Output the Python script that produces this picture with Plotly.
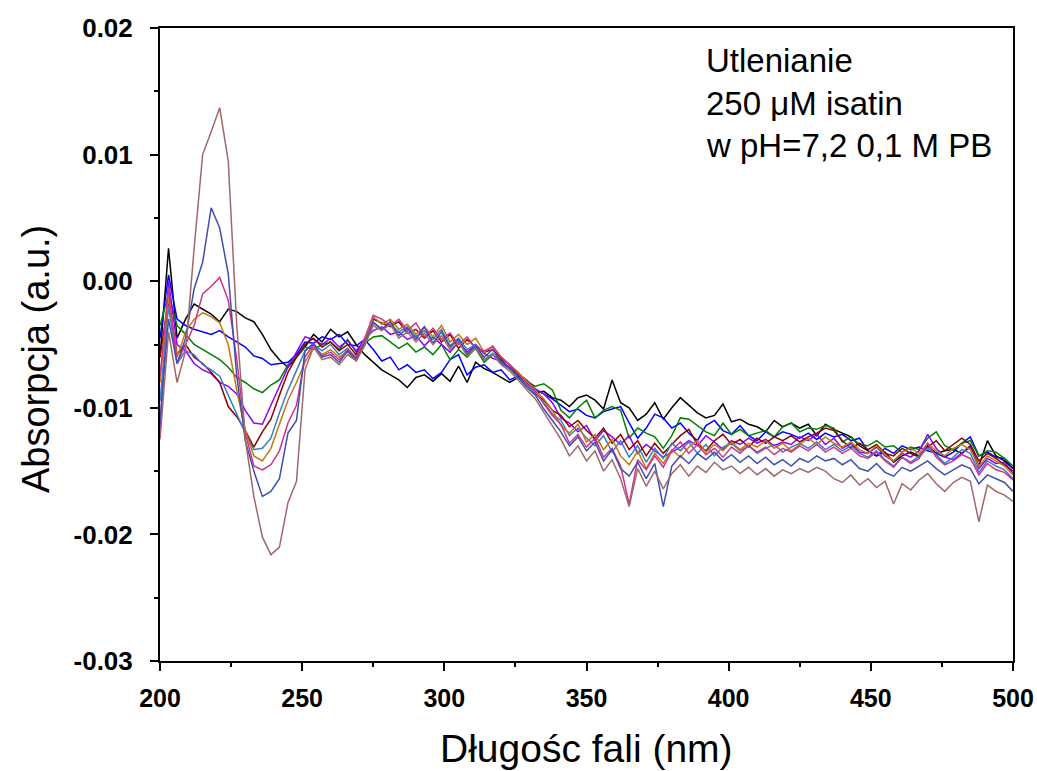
import plotly.graph_objects as go

# Wavelength grid (nm), 3 nm step, 200..500
wavelength = list(range(200, 501, 3))

# Absorbance values in mAU (converted to a.u. below)
black = [-6.0, 2.6, -4.5, -3.0, -1.8, -2.2, -2.6, -3.2, -2.2, -2.4,
         -2.9, -3.2, -4.2, -5.4, -6.2, -6.8, -6.0, -5.2, -4.2, -4.8,
         -3.8, -4.4, -4.0, -5.0, -5.8, -6.4, -7.0, -7.4, -7.8, -8.4,
         -7.6, -7.4, -7.9, -7.3, -7.9, -6.7, -8.0, -6.4, -6.9, -7.2,
         -7.6, -8.0, -7.6, -8.2, -8.8, -8.7, -9.2, -9.4, -9.9, -9.2,
         -9.0, -9.4, -10.1, -7.8, -9.6, -10.0, -11.0, -10.5, -9.6, -10.9,
         -10.0, -9.2, -9.8, -10.4, -10.8, -10.6, -9.7, -11.1, -10.9, -11.3,
         -11.5, -11.9, -11.0, -11.5, -11.2, -11.6, -11.3, -12.2, -11.3, -11.7,
         -12.0, -12.3, -13.0, -13.4, -13.8, -13.5, -14.3, -13.8, -13.5, -13.8,
         -13.0, -13.6, -13.4, -13.3, -13.6, -13.0, -14.6, -12.6, -13.8, -14.2,
         -14.8]
blue = [-4.5, 0.5, -3.0, -3.5, -3.8, -4.0, -4.2, -3.9, -4.4, -4.8,
        -5.2, -5.9, -6.1, -6.6, -6.5, -6.4, -5.8, -4.8, -4.9, -4.4,
        -4.6, -4.2, -5.0, -5.1, -4.6, -5.4, -6.3, -6.0, -7.0, -6.6,
        -7.2, -7.0, -7.7, -7.2, -6.2, -5.8, -7.4, -6.8, -6.6, -7.2,
        -7.0, -7.8, -7.5, -8.0, -8.6, -8.9, -9.3, -9.8, -10.3, -10.1,
        -10.6, -10.8, -10.3, -10.1, -9.9, -11.2, -12.4, -11.6, -10.5, -10.8,
        -11.6, -11.2, -12.0, -12.6, -11.4, -11.0, -11.8, -12.1, -11.4, -12.2,
        -12.6, -11.9, -12.3, -11.9, -12.1, -12.4, -12.0, -12.5, -12.0, -12.3,
        -12.1, -12.6, -12.4, -13.4, -13.8, -13.2, -13.6, -13.0, -13.3, -13.1,
        -13.4, -13.6, -13.9, -13.5, -12.8, -12.3, -13.8, -13.5, -13.9, -14.0,
        -14.8]
green = [-3.5, -1.0, -3.5, -4.2, -5.0, -5.4, -5.8, -6.2, -6.8, -7.6,
         -8.0, -8.5, -8.8, -8.2, -7.8, -6.6, -6.0, -5.2, -5.4, -5.0,
         -4.8, -5.4, -4.6, -5.6, -4.9, -4.4, -4.3, -4.8, -5.3, -4.9,
         -5.6, -5.2, -5.8, -5.0, -6.2, -5.4, -6.0, -5.3, -6.4, -5.8,
         -6.2, -6.9, -7.4, -7.9, -8.3, -8.1, -8.6, -10.2, -10.8, -10.0,
         -9.4, -10.8, -10.2, -9.9, -10.2, -12.4, -11.6, -12.0, -12.3, -13.2,
         -12.2, -10.8, -10.9, -11.4, -11.9, -12.2, -11.2, -12.1, -11.7, -12.2,
         -12.0, -11.8, -12.3, -11.5, -11.2, -11.9, -11.6, -11.7, -11.4, -11.6,
         -12.7, -12.3, -12.9, -13.0, -12.6, -13.1, -13.0, -13.5, -13.1, -13.3,
         -12.4, -11.9, -13.0, -13.3, -12.8, -12.6, -13.8, -13.4, -13.5, -14.0,
         -14.6]
purple = [-12.0, 0.0, -5.0, -5.5, -6.5, -7.0, -7.3, -8.0, -8.3, -8.9,
          -10.2, -11.2, -11.3, -9.8, -8.2, -6.8, -5.6, -4.4, -4.6, -5.0,
          -4.5, -5.2, -4.7, -5.5, -4.6, -3.9, -3.6, -4.2, -4.0, -4.6,
          -4.3, -5.1, -4.4, -5.0, -5.6, -4.8, -5.6, -5.0, -5.7, -6.1,
          -6.3, -6.8, -7.3, -7.8, -8.5, -8.9, -9.6, -10.8, -11.2, -11.9,
          -11.4, -12.6, -11.8, -12.3, -12.9, -12.2, -13.6, -12.9, -13.4, -13.9,
          -13.5, -13.1, -12.6, -13.0, -12.2, -12.7, -13.3, -12.6, -12.9, -12.4,
          -12.8, -12.5, -13.0, -12.7, -12.9, -12.3, -12.6, -12.1, -12.9, -12.4,
          -13.2, -12.8, -13.5, -13.6, -13.1, -13.8, -14.2, -13.6, -13.9, -13.4,
          -12.1, -13.2, -13.9, -14.1, -13.6, -13.1, -14.8, -14.0, -14.4, -14.3,
          -15.2]
darkred = [-6.0, -1.5, -5.8, -5.0, -6.0, -6.5, -7.2, -8.0, -9.9, -10.7,
           -11.8, -13.1, -11.9, -10.9, -9.0, -7.2, -6.0, -5.0, -4.5, -5.2,
           -4.8, -5.5, -5.0, -5.8, -4.6, -3.0, -3.3, -3.6, -3.2, -4.1,
           -3.8, -4.5, -3.9, -4.8, -4.2, -5.3, -4.6, -5.2, -5.6, -5.4,
           -6.1, -6.6, -7.4, -8.0, -8.9, -9.4, -10.2, -10.6, -11.5, -11.0,
           -11.8, -12.4, -11.6, -12.8, -12.1, -13.3, -12.6, -13.8, -12.8, -13.6,
           -12.9, -12.2, -11.7, -12.9, -13.4, -12.6, -12.1, -12.9, -12.5, -13.1,
           -12.4, -12.8, -12.3, -12.6, -12.2, -12.7, -12.3, -12.0, -11.6, -11.8,
           -12.6, -13.2, -12.8, -13.3, -12.9, -13.6, -13.8, -13.2, -13.6, -13.9,
           -13.1, -12.6, -13.4, -12.9, -12.4, -12.9, -14.2, -13.6, -14.0, -14.5,
           -15.0]
steelblue = [-9.5, -2.0, -6.5, -5.5, -5.8, -6.6, -7.0, -7.5, -9.0, -10.5,
             -12.0, -13.3, -13.2, -12.4, -10.4, -8.6, -7.0, -5.5, -5.0, -5.5,
             -5.0, -5.8, -5.3, -6.1, -5.0, -3.2, -3.8, -3.4, -4.0, -3.6,
             -4.4, -3.9, -4.6, -3.8, -5.1, -4.5, -5.4, -5.0, -6.2, -5.7,
             -6.5, -6.9, -7.6, -8.2, -8.8, -9.6, -10.5, -11.0, -12.2, -11.6,
             -12.4, -13.0, -12.2, -13.5, -12.6, -13.9, -13.0, -14.3, -13.2, -14.0,
             -12.8, -13.4, -12.7, -13.6, -12.9, -13.8, -13.1, -12.8, -13.4, -13.0,
             -13.6, -13.2, -12.9, -13.5, -13.1, -12.8, -13.2, -12.7, -13.3, -12.9,
             -13.4, -13.0, -13.6, -13.9, -13.4, -14.1, -14.6, -13.9, -14.3, -13.8,
             -13.2, -13.7, -14.4, -13.9, -13.3, -13.6, -15.1, -14.2, -14.6, -14.9,
             -15.6]
orange = [-8.0, -1.2, -6.0, -4.0, -3.0, -2.5, -2.8, -3.3, -5.0, -8.6,
          -11.8, -13.8, -14.2, -13.2, -11.3, -9.4, -8.0, -6.4, -5.2, -5.8,
          -5.4, -6.0, -5.6, -6.3, -4.8, -2.8, -3.4, -3.0, -3.8, -3.4,
          -4.2, -3.6, -4.4, -3.5, -4.8, -4.2, -5.0, -4.5, -5.6, -5.1,
          -6.0, -6.6, -7.2, -7.9, -8.6, -9.3, -10.2, -11.4, -12.0, -11.3,
          -12.7, -12.1, -13.3, -12.5, -13.8, -14.5, -13.4, -14.8, -13.6, -14.4,
          -13.3, -13.9, -13.1, -12.6, -13.5, -12.9, -13.4, -12.7, -13.3, -12.8,
          -13.1, -12.6, -13.2, -12.8, -13.4, -12.9, -12.4, -12.9, -12.3, -12.8,
          -13.1, -12.7, -13.3, -13.6, -13.0, -13.7, -14.2, -13.5, -13.2, -13.6,
          -12.8, -13.4, -13.8, -13.2, -12.9, -13.3, -14.6, -13.8, -14.2, -14.6,
          -15.3]
magenta = [-7.5, -0.5, -6.5, -5.0, -3.5, -1.0, -0.4, 0.3, -1.5, -6.2,
           -12.0, -14.6, -14.9, -14.5, -13.4, -11.2, -9.8, -6.0, -5.0, -5.9,
           -5.6, -6.2, -5.4, -6.0, -4.5, -2.7, -3.0, -3.5, -3.0, -3.9,
           -3.3, -4.4, -3.7, -4.6, -4.1, -5.0, -4.4, -5.3, -5.5, -5.2,
           -6.0, -6.6, -7.3, -8.1, -8.7, -9.7, -10.6, -11.3, -12.8, -12.1,
           -13.1, -12.4, -13.9, -13.2, -14.6, -17.6, -14.1, -14.9, -13.8, -14.7,
           -13.4, -12.7, -13.6, -12.9, -13.7, -13.2, -13.9, -13.1, -13.6, -13.0,
           -13.5, -13.1, -13.7, -13.2, -13.5, -13.0, -13.4, -12.9, -13.5, -13.1,
           -13.6, -13.2, -13.8, -14.0, -13.5, -14.2, -14.7, -13.9, -14.4, -14.0,
           -12.8, -13.9, -14.5, -14.2, -13.7, -14.0, -15.3, -14.4, -14.9, -15.1,
           -15.7]
navy = [-11.0, -3.0, -6.5, -4.5, -0.6, 1.5, 5.8, 4.2, 0.6, -7.5,
        -12.6, -15.0, -17.0, -16.6, -15.6, -12.0, -11.0, -5.5, -4.9, -6.0,
        -5.8, -6.4, -5.5, -6.2, -4.9, -3.3, -3.8, -3.2, -4.3, -3.7,
        -4.6, -3.6, -4.9, -4.0, -5.2, -4.6, -5.8, -5.1, -6.0, -5.4,
        -6.4, -6.9, -7.6, -8.4, -9.0, -10.1, -11.0, -11.9, -13.0, -12.3,
        -13.4, -12.7, -14.2, -13.3, -14.8, -15.4, -14.3, -15.6, -14.4, -17.8,
        -14.6, -13.8, -14.4, -13.6, -14.1, -13.5, -14.2, -13.7, -14.3, -13.8,
        -14.4, -13.9, -14.5, -14.1, -14.6, -14.0, -14.3, -13.8, -14.2, -14.0,
        -14.5, -14.1, -14.8, -15.0, -14.4, -15.1, -15.4, -14.7, -15.0, -14.6,
        -14.2, -14.8, -15.3, -14.9, -14.5, -14.8, -16.0, -15.3, -15.6, -15.9,
        -16.6]
brown = [-12.5, -4.0, -8.0, -5.5, 2.6, 10.0, 11.8, 13.7, 9.5, -3.5,
         -12.5, -17.0, -20.2, -21.6, -21.0, -17.5, -15.8, -7.0, -5.2, -6.2,
         -6.0, -6.6, -5.8, -6.3, -5.1, -3.5, -3.9, -3.4, -4.5, -4.0,
         -4.8, -4.1, -5.0, -4.3, -5.4, -4.8, -5.9, -5.3, -6.2, -5.8,
         -6.6, -7.1, -7.8, -8.6, -9.3, -10.4, -11.4, -12.5, -13.8, -13.0,
         -14.2, -13.4, -15.0, -14.1, -15.6, -17.8, -14.8, -16.2, -15.0, -16.4,
         -15.2, -14.5, -15.4, -14.6, -15.1, -14.3, -14.9, -14.6, -15.2, -14.7,
         -15.3, -14.8, -15.4, -14.9, -15.2, -14.8, -15.1, -14.7, -15.0, -15.6,
         -15.9, -15.3, -16.1, -15.6, -16.3, -15.8, -17.6, -16.0, -16.5, -15.7,
         -15.2, -16.0, -16.6, -15.9, -15.5, -15.8, -19.0, -16.1, -16.6, -16.9,
         -17.4]

series = [
    (black, "#000000"),
    (blue, "#0000FF"),
    (green, "#008000"),
    (purple, "#8B00FF"),
    (darkred, "#8B0000"),
    (steelblue, "#3C80C0"),
    (orange, "#C07A10"),
    (magenta, "#D0338F"),
    (navy, "#3F4FB0"),
    (brown, "#A06868"),
]

y_ticks = [0.02, 0.01, 0.0, -0.01, -0.02, -0.03]
y_ticktext = ["0.02", "0.01", "0.00", "-0.01", "-0.02", "-0.03"]
x_ticks = [200, 250, 300, 350, 400, 450, 500]

x_title = "D\u0142ugo\u015bc fali (nm)"
y_title = "Absorpcja (a.u.)"
annotation_lines = ["Utlenianie", "250 \u03bcM isatin", "w pH=7,2 0,1 M PB"]

fig = go.Figure()
for vals, col in series:
    fig.add_trace(go.Scatter(
        x=wavelength[:len(vals)],
        y=[v / 1000.0 for v in vals],
        mode="lines",
        line=dict(color=col, width=1.5),
        showlegend=False,
    ))

font_family = "Liberation Sans, Arial, sans-serif"

# plot area in reference pixels: x 160..1013, y 28..661
L, R, T, B = 160, 1013, 28, 661


def px(x):
    return (x - L) / (R - L)


def py(y):
    return (B - y) / (B - T)


fig.update_layout(
    width=1037, height=771,
    margin=dict(l=160, r=24, t=28, b=110, autoexpand=False),
    paper_bgcolor="white", plot_bgcolor="white",
    font=dict(family=font_family, color="black"),
    showlegend=False,
)

fig.update_xaxes(
    range=[200, 500],
    tickvals=x_ticks,
    ticks="outside", ticklen=8, tickwidth=2, tickcolor="black",
    minor=dict(dtick=25, tick0=200, ticks="outside", ticklen=4, tickwidth=2, tickcolor="black"),
    showline=True, linecolor="black", linewidth=2, mirror=True,
    showgrid=False, zeroline=False, automargin=False,
    tickfont=dict(size=25, weight="bold", family=font_family),
    ticklabelstandoff=6,
)
fig.update_yaxes(
    range=[-0.03, 0.02],
    tickvals=y_ticks, ticktext=y_ticktext,
    ticks="outside", ticklen=8, tickwidth=2, tickcolor="black",
    minor=dict(dtick=0.005, tick0=0, ticks="outside", ticklen=4, tickwidth=2, tickcolor="black"),
    showline=True, linecolor="black", linewidth=2, mirror=True,
    showgrid=False, zeroline=False, automargin=False,
    tickfont=dict(size=26, weight="bold", family=font_family),
    ticklabelstandoff=12,
)

# axis titles
fig.add_annotation(
    xref="paper", yref="paper", x=px(586), y=py(748),
    xanchor="center", yanchor="middle", showarrow=False,
    text=x_title, font=dict(size=39, family=font_family, color="black"),
)
fig.add_annotation(
    xref="paper", yref="paper", x=px(36), y=py(359),
    xanchor="center", yanchor="middle", showarrow=False, textangle=-90,
    text=y_title, font=dict(size=38, family=font_family, color="black"),
)

for i, line in enumerate(annotation_lines):
    fig.add_annotation(
        xref="paper", yref="paper",
        x=px(704), y=py(61 + 42 * i),
        xanchor="left", yanchor="middle",
        text=line, showarrow=False,
        font=dict(size=33, family=font_family, color="black"),
    )

fig.write_html(
    "out.html",
    config={"displayModeBar": False},
    post_script="document.body.style.margin='0px';document.body.style.overflow='hidden';",
)
